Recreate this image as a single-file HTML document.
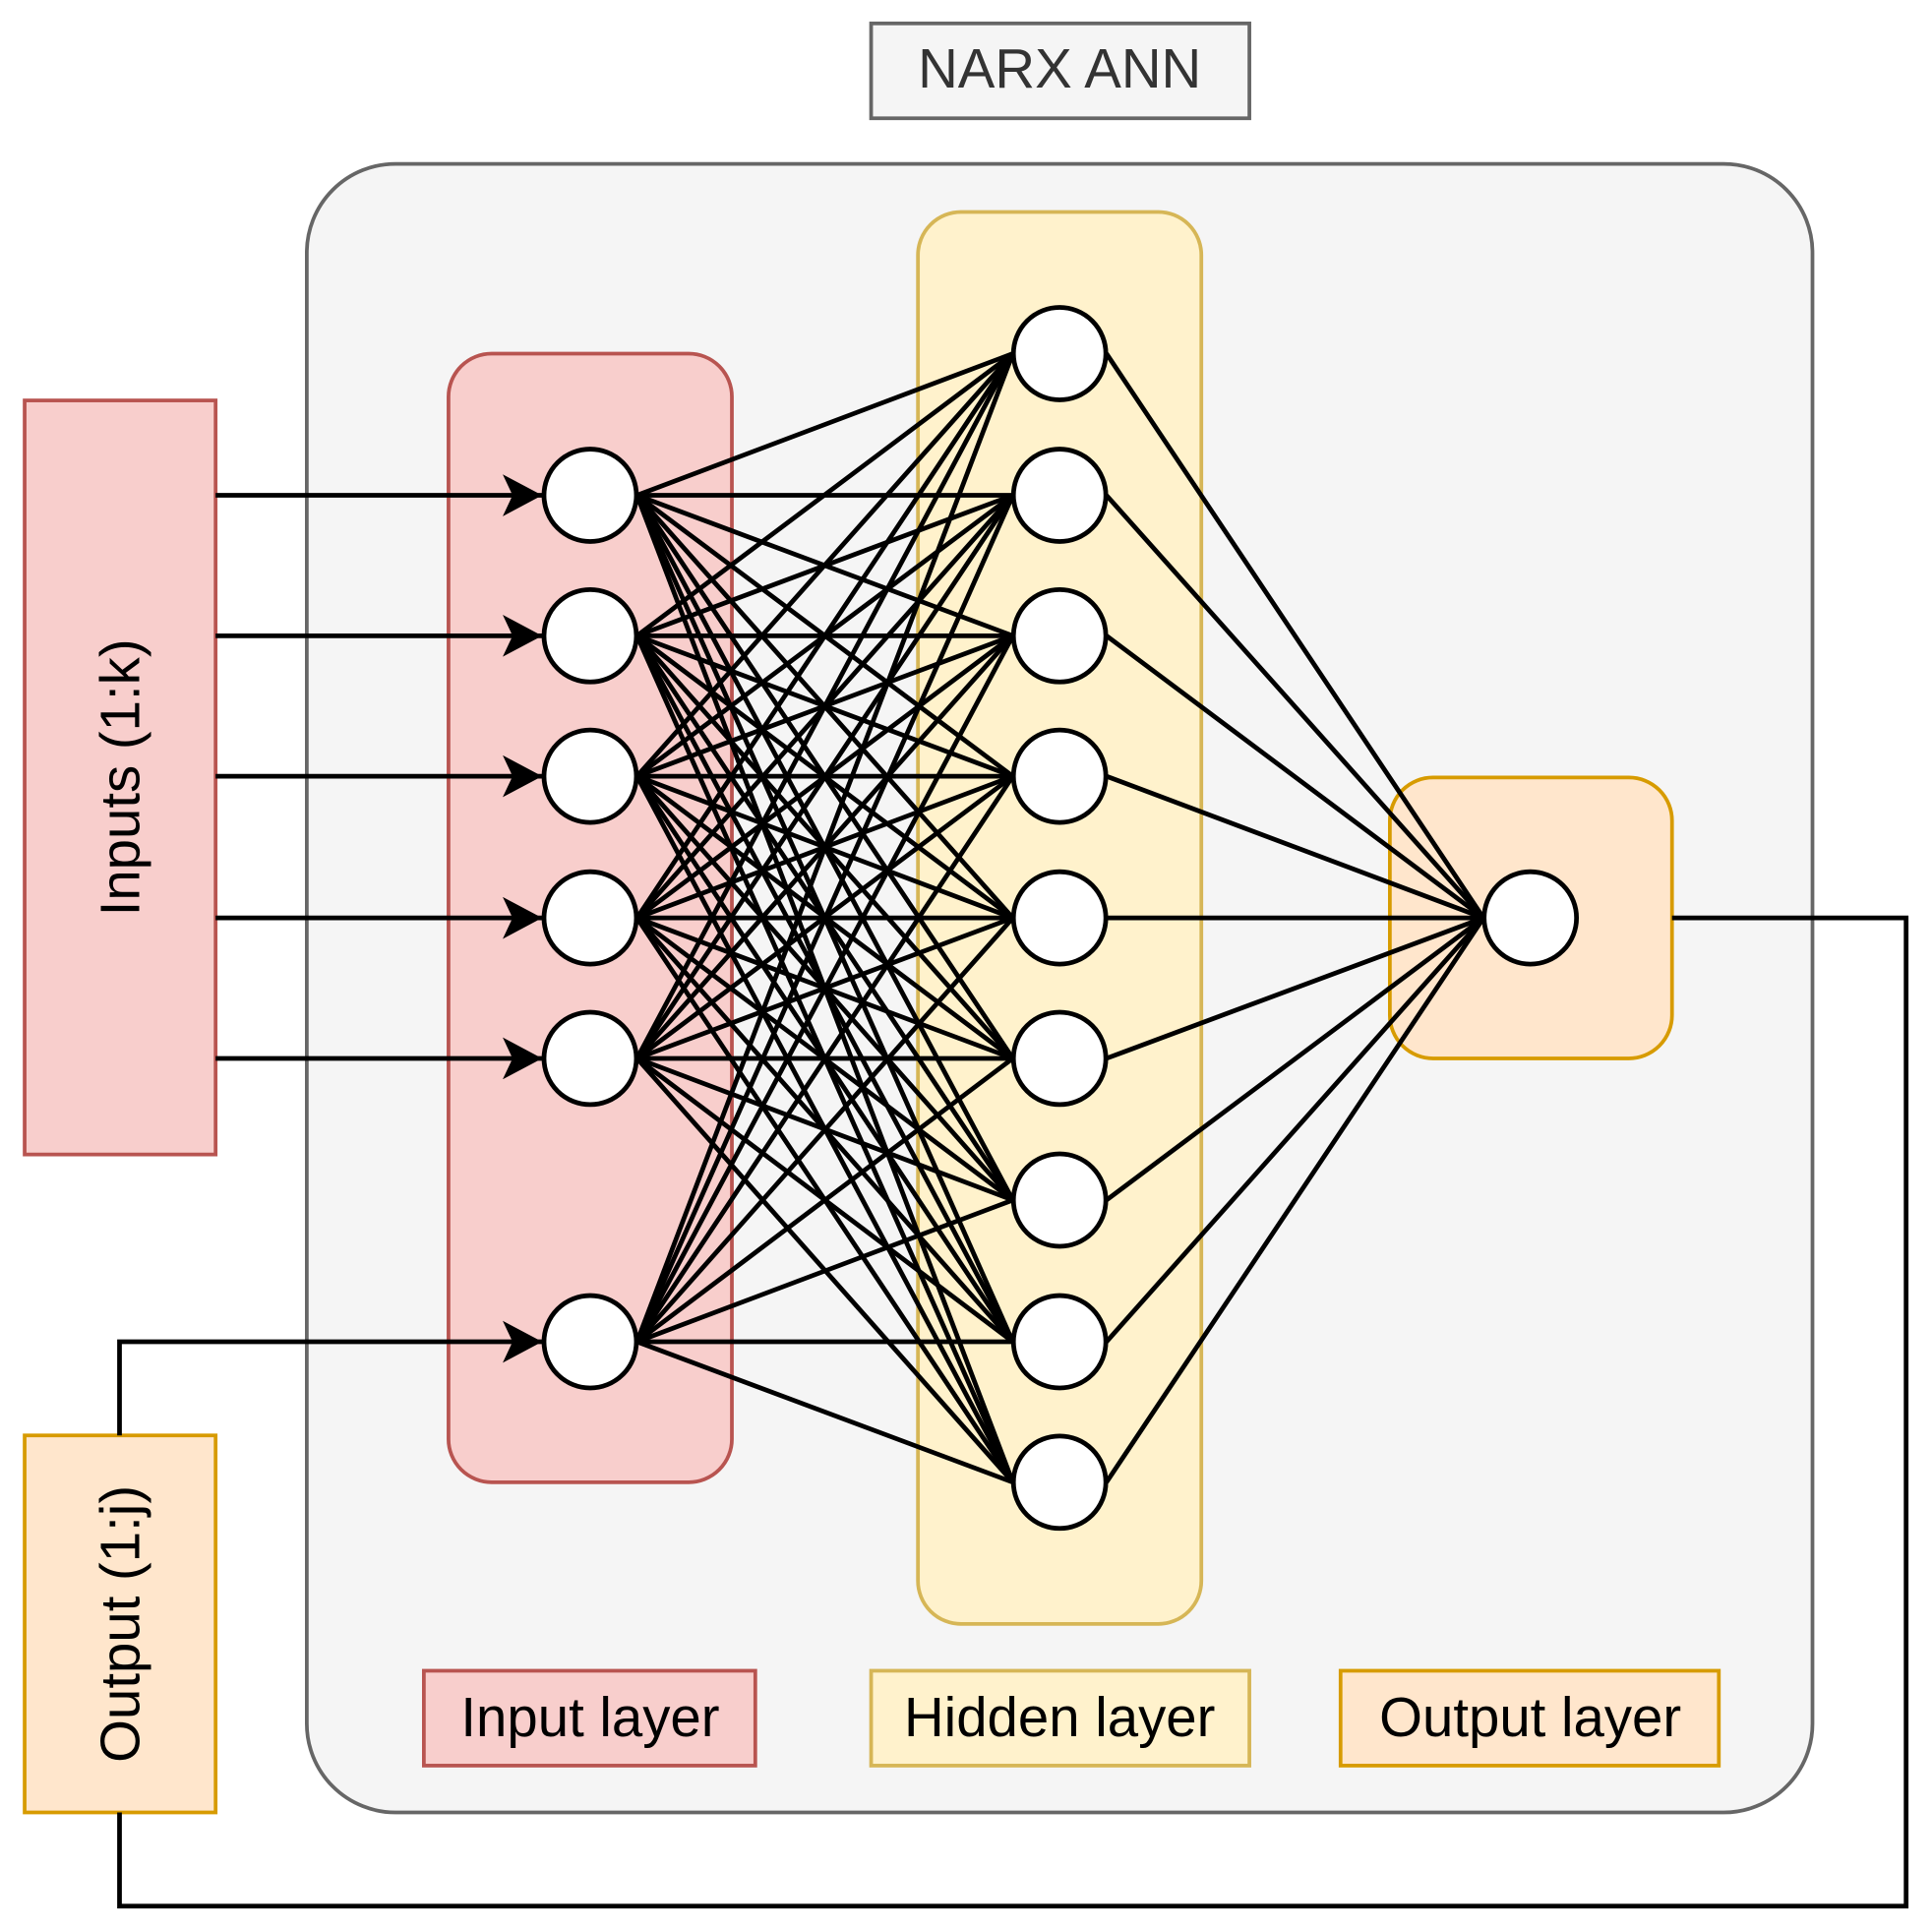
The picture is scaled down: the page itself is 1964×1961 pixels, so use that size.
<!DOCTYPE html>
<html><head><meta charset="utf-8"><style>html,body{margin:0;padding:0;background:#fff}svg{display:block}</style></head>
<body>
<svg id="s" xmlns="http://www.w3.org/2000/svg" width="1964" height="1961" viewBox="0 0 1568 1565.6" font-family="Liberation Sans, Arial, sans-serif">
<defs>
<marker id="ar" viewBox="0 0 34 34" markerWidth="34" markerHeight="34" refX="32" refY="17" orient="auto" markerUnits="userSpaceOnUse"><path d="M0,0 L32,17 L0,34 L8,17 Z" fill="#000"/></marker></defs>
<rect x="707" y="19" width="307" height="77" fill="#f5f5f5" stroke="#666" stroke-width="3"/>
<text x="860" y="71" font-size="45" fill="#333" text-anchor="middle">NARX ANN</text>
<rect x="249" y="133" width="1222" height="1338" rx="72" fill="#f5f5f5" stroke="#666" stroke-width="3"/>
<rect x="364" y="287" width="230" height="916" rx="35" fill="#f8cecc" stroke="#b85450" stroke-width="3"/>
<rect x="745" y="172" width="230" height="1146" rx="35" fill="#fff2cc" stroke="#d6b656" stroke-width="3"/>
<rect x="1128" y="631" width="229" height="228" rx="35" fill="#ffe6cc" stroke="#d79b00" stroke-width="3"/>
<rect x="20" y="325" width="155" height="612" fill="#f8cecc" stroke="#b85450" stroke-width="3"/>
<rect x="20" y="1165" width="155" height="306" fill="#ffe6cc" stroke="#d79b00" stroke-width="3"/>
<text transform="translate(113,631) rotate(-90)" font-size="45" text-anchor="middle">Inputs (1:k)</text>
<text transform="translate(113,1318) rotate(-90)" font-size="45" text-anchor="middle">Output (1:j)</text>
<rect x="344" y="1356" width="269" height="77" fill="#f8cecc" stroke="#b85450" stroke-width="3"/>
<text x="479" y="1409" font-size="45" text-anchor="middle">Input layer</text>
<rect x="707" y="1356" width="307" height="77" fill="#fff2cc" stroke="#d6b656" stroke-width="3"/>
<text x="860" y="1409" font-size="45" text-anchor="middle">Hidden layer</text>
<rect x="1088" y="1356" width="307" height="77" fill="#ffe6cc" stroke="#d79b00" stroke-width="3"/>
<text x="1242" y="1409" font-size="45" text-anchor="middle">Output layer</text>
<g id="L" stroke="#000" stroke-width="3.8" fill="none"></g>
<g id="N" fill="#fff" stroke="#000" stroke-width="3.8"></g>
</svg>
<script>
var NS="http://www.w3.org/2000/svg",L=document.getElementById("L"),N=document.getElementById("N");
function el(p,t,a){var e=document.createElementNS(NS,t);for(var k in a)e.setAttribute(k,a[k]);p.appendChild(e);return e;}
var iy=[402,516,630,745,859,1089],hy=[287,402,516,630,745,859,974,1089,1203];
iy.forEach(function(a){hy.forEach(function(b){el(L,"line",{x1:517,y1:a,x2:822,y2:b});});});
hy.forEach(function(b){el(L,"line",{x1:898,y1:b,x2:1204,y2:745});});
[402,516,630,745,859].forEach(function(y){el(L,"line",{x1:175,y1:y,x2:440,y2:y,"marker-end":"url(#ar)"});});
el(L,"polyline",{points:"97,1165 97,1089 440,1089","marker-end":"url(#ar)"});
el(L,"polyline",{points:"1357,745 1547,745 1547,1547 97,1547 97,1471"});
iy.forEach(function(y){el(N,"circle",{cx:479,cy:y,r:37.5});});
hy.forEach(function(y){el(N,"circle",{cx:860,cy:y,r:37.5});});
el(N,"circle",{cx:1242,cy:745,r:37.5});
</script>
</body></html>
